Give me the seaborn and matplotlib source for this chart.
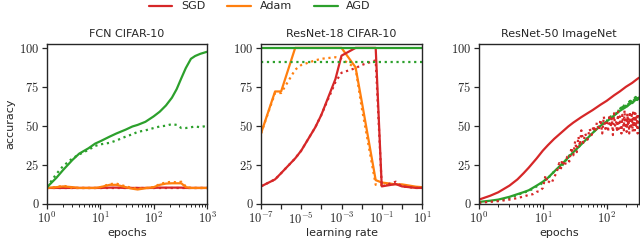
import numpy as np
import pandas as pd
import matplotlib
matplotlib.use("Agg")
import matplotlib.pyplot as plt
import seaborn as sns
from matplotlib.ticker import FuncFormatter, FixedLocator, NullLocator

# FCN CIFAR-10 (train = solid, test = dotted)
fcn_epochs = [1, 1.5, 2, 3, 4, 6, 8, 10, 15, 20, 30, 40, 50, 70, 100, 130, 170, 220, 270, 330, 400, 500, 600, 750, 1000]
fcn_agd_train = [10.5, 16.5, 21.5, 28, 32, 35.5, 38.5, 40, 43, 45, 47.5, 49.5, 50.5, 52.5, 56, 59, 63, 68, 73.5, 80.5, 87, 93, 94.8, 96.2, 97.5]
fcn_agd_test = [10.5, 19, 24, 29, 31.5, 34.5, 37, 38, 39, 40.5, 43, 44.5, 46, 47, 48.5, 49.5, 50, 51, 50.5, 48.5, 48.5, 49, 49.5, 49, 50]
fcn_adam_train = [10, 10.5, 11, 10.5, 10, 10, 10, 10.5, 12, 12, 10.5, 9.5, 9, 9.8, 10.5, 12, 12.8, 13, 13, 13, 10.5, 10, 10, 10, 10]
fcn_adam_test = [10, 10.5, 11.5, 10, 10, 10, 10, 10.5, 12.5, 12.8, 11, 10, 9.5, 10, 10.5, 12.5, 13.5, 14, 13.5, 14, 11, 10, 10, 10, 10]
fcn_sgd_train = [10, 10, 10, 10, 10, 10, 10, 10, 10.2, 10.2, 10, 10, 10, 10, 10, 10.2, 10.2, 10.2, 10.2, 10.2, 10, 10, 10, 10, 10]
fcn_sgd_test = [10, 10, 10, 10, 10, 10, 10, 10, 10, 10, 10, 10, 10, 10, 10, 10, 10, 10, 10, 10, 10, 10, 10, 10, 10]

# ResNet-18 CIFAR-10, learning rate sweep
lrs = [1e-7, 5e-7, 1e-6, 5e-6, 1e-5, 5e-5, 1e-4, 5e-4, 1e-3, 5e-3, 1e-2, 5e-2, 1e-1, 5e-1, 1, 5, 10]
r18_sgd_train = [11, 15.5, 19.5, 29, 34, 49, 57, 80, 95, 100, 100, 100, 11, 12.5, 11, 10, 10]
r18_sgd_test = [11, 15.5, 19.5, 29, 34, 49, 57, 78, 84, 87, 89, 92, 11, 14, 11, 10, 10]
r18_adam_train = [45, 72, 72, 100, 100, 100, 100, 100, 100, 87.5, 66, 15, 13.5, 12.3, 12.3, 10.8, 10.5]
r18_adam_test = [45, 71, 71, 86, 89, 92, 93, 94, 93, 87, 62, 12, 12, 12.5, 11.5, 10.5, 10]
r18_agd_train = [100] * 17
r18_agd_test = [90.7] * 17

# ResNet-50 ImageNet
r50_epochs = [1, 1.5, 2, 3, 4, 5, 6, 8, 10, 12, 15, 20, 25, 30, 40, 50, 60, 80, 100, 130, 160, 200, 250, 300, 320]
r50_sgd_train = [2.5, 5, 7.2, 11.5, 15.5, 19.5, 23, 29, 34, 37.5, 41.5, 46, 49.5, 52, 55.5, 58, 60, 63.5, 66, 69.5, 72, 75, 77.5, 80, 80.8]
r50_agd_train = [1, 1.8, 2.5, 4.3, 6, 7.3, 8.5, 11.5, 14, 16.5, 20.5, 25.5, 29.5, 33, 38, 42, 45.3, 50, 52.7, 56.5, 59.5, 62, 65, 67.2, 68]
r50_test_epochs = [1, 2, 3, 4, 5, 6, 7, 8, 9, 10, 11, 12, 13, 14, 15, 16, 17, 18, 19, 20,
                   22, 24, 26, 28, 30, 32, 34, 36, 38, 40, 43, 46, 50, 54, 58, 62, 66, 70, 75, 80,
                   85, 90, 95, 100, 105, 110, 115, 120, 125, 130, 135, 140, 145, 150, 155, 160,
                   165, 170, 175, 180, 185, 190, 195, 200, 205, 210, 215, 220, 225, 230, 235, 240,
                   245, 250, 255, 260, 265, 270, 275, 280, 285, 290, 295, 300, 305, 310, 315, 320]
r50_sgd_test = [0.5, 1.5, 2.5, 3.5, 4.5, 5.5, 6, 7.5, 8, 10, 18, 13, 15, 14, 17, 19, 22, 26, 21, 28,
                24, 30, 27, 36, 31, 40, 33, 43, 37, 47, 39, 45, 41, 48, 44, 50, 46, 52, 47, 54,
                45, 56, 48, 52, 46, 57, 49, 55, 44, 58, 50, 53, 46, 59, 48, 56,
                51, 45, 57, 52, 47, 60, 50, 54, 46, 58, 51, 55, 45, 59, 52, 48,
                57, 53, 46, 60, 51, 55, 47, 58, 52, 49, 56, 53, 45, 58, 52, 55]
r50_agd_test = [0.5, 2, 3.5, 5.5, 7, 8, 9.5, 11, 12, 13.5, 15.5, 15.5, 18, 18.5, 21, 20.5, 23, 22.5, 25, 24,
                27.5, 28, 31, 30.5, 33.5, 33, 35.5, 35.5, 37.5, 37.5, 40, 40, 42.5, 43, 45, 45.5, 47.5, 47.5, 49.5, 50,
                51.5, 51.5, 53, 53, 54.5, 54.5, 56, 55.5, 57, 56.5, 58.5, 57.5, 59.5, 58.5, 60.5, 59.5,
                61.5, 60, 62, 60.5, 63, 61, 63.5, 62, 64.5, 62.5, 65, 63, 65.5, 63.5, 66, 64,
                66.5, 64.5, 67, 65, 67.5, 65.5, 68, 66, 68.5, 66, 68.5, 66.5, 69, 67, 69, 67.5]

c_sgd, c_adam, c_agd = "#d62728", "#ff7f0e", "#2ca02c"

sns.set_theme(style="ticks")
plt.rcParams["font.family"] = ["DejaVu Sans"]
plt.rcParams["mathtext.fontset"] = "cm"
plt.rcParams["axes.linewidth"] = 1.0

fig = plt.figure(figsize=(6.4, 2.45), dpi=100)
ax1 = fig.add_axes([47 / 640, 1 - 203.5 / 245, 160 / 640, 159.5 / 245])
ax2 = fig.add_axes([261 / 640, 1 - 203.5 / 245, 161 / 640, 159.5 / 245])
ax3 = fig.add_axes([479 / 640, 1 - 203.5 / 245, 160 / 640, 159.5 / 245])

lw = 1.6

def draw(ax, x, y, color, ls="-", label=None):
    sns.lineplot(x=x, y=y, color=color, linestyle=ls, linewidth=lw, ax=ax, label=label, legend=False)

# Panel 1
draw(ax1, fcn_epochs, fcn_sgd_train, c_sgd, label="SGD")
draw(ax1, fcn_epochs, fcn_sgd_test, c_sgd, ":")
draw(ax1, fcn_epochs, fcn_adam_train, c_adam, label="Adam")
draw(ax1, fcn_epochs, fcn_adam_test, c_adam, ":")
draw(ax1, fcn_epochs, fcn_agd_train, c_agd, label="AGD")
draw(ax1, fcn_epochs, fcn_agd_test, c_agd, ":")

# Panel 2
draw(ax2, lrs, r18_adam_train, c_adam)
draw(ax2, lrs, r18_adam_test, c_adam, ":")
draw(ax2, lrs, r18_sgd_train, c_sgd)
draw(ax2, lrs, r18_sgd_test, c_sgd, ":")
draw(ax2, lrs, r18_agd_train, c_agd)
draw(ax2, lrs, r18_agd_test, c_agd, ":")

# Panel 3
draw(ax3, r50_epochs, r50_sgd_train, c_sgd)
draw(ax3, r50_test_epochs, r50_agd_test, c_agd, ":")
draw(ax3, r50_epochs, r50_agd_train, c_agd)
draw(ax3, r50_test_epochs, r50_sgd_test, c_sgd, ":")

pow_fmt = FuncFormatter(lambda v, p: f"$10^{{{int(round(np.log10(v)))}}}$")
y_fmt = FuncFormatter(lambda v, p: f"${v:.0f}$")

for ax, title, xlabel in [(ax1, "FCN CIFAR-10", "epochs"),
                          (ax2, "ResNet-18 CIFAR-10", "learning rate"),
                          (ax3, "ResNet-50 ImageNet", "epochs")]:
    ax.set_xscale("log")
    ax.set_ylim(0, 102.5)
    ax.set_yticks([0, 25, 50, 75, 100])
    ax.yaxis.set_major_formatter(y_fmt)
    ax.set_title(title, fontsize=8, pad=5)
    ax.set_xlabel(xlabel, fontsize=8, labelpad=1)
    ax.set_ylabel("")
    ax.tick_params(which="major", length=3.5, width=0.9, labelsize=9, pad=2)
    ax.tick_params(which="minor", length=2, width=0.7)
    for s in ax.spines.values():
        s.set_visible(True)

ax1.set_xlim(1, 1000)
ax1.set_xticks([1, 10, 100, 1000])
ax1.xaxis.set_major_formatter(pow_fmt)
ax1.set_ylabel("accuracy", fontsize=8, labelpad=3)

ax2.set_xlim(1e-7, 10)
ax2.xaxis.set_major_locator(FixedLocator([10.0 ** k for k in range(-7, 2)]))
ax2.xaxis.set_minor_locator(NullLocator())
ax2.xaxis.set_major_formatter(FuncFormatter(
    lambda v, p: f"$10^{{{int(round(np.log10(v)))}}}$" if int(round(np.log10(v))) % 2 else ""))

ax3.set_xlim(1, 320)
ax3.set_xticks([1, 10, 100])
ax3.xaxis.set_major_formatter(pow_fmt)

fig.legend(loc="upper center", bbox_to_anchor=(0.406, 1.035), ncol=3, frameon=False,
           fontsize=8, handlelength=2.1, columnspacing=2.0, handletextpad=0.8)

fig.savefig("out.png", dpi=100)
